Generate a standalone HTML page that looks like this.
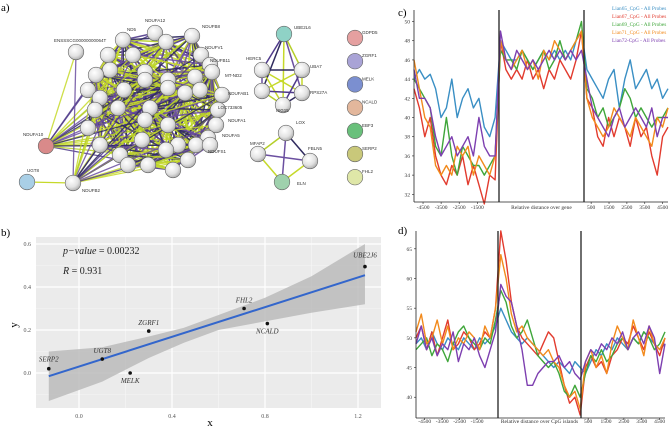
<!DOCTYPE html>
<html><head><meta charset="utf-8"><style>
html,body{margin:0;padding:0;background:#fff;width:670px;height:429px;overflow:hidden}
svg{display:block}
text{font-family:"Liberation Serif",serif}
.sans{font-family:"Liberation Sans",sans-serif}
</style></head><body>
<svg id="fig" width="670" height="429" viewBox="0 0 670 429">
<defs>
<radialGradient id="sph" cx="0.4" cy="0.35" r="0.7"><stop offset="0" stop-color="#fff"/><stop offset="0.6" stop-color="#e2e2e2"/><stop offset="1" stop-color="#a8a8a8"/></radialGradient>
</defs>
<text x="1" y="11" font-size="11">a)</text>
<text x="1" y="236" font-size="11">b)</text>
<text x="398" y="16" font-size="11">c)</text>
<text x="398" y="234" font-size="11">d)</text>
<g id="net"></g>
<g id="pb"></g>
<g id="pc"></g>
<g id="pd"></g>
</svg>
<script>
const NS="http://www.w3.org/2000/svg";
function mk(p,t,a){const e=document.createElementNS(NS,t);for(const k in a)e.setAttribute(k,a[k]);p.appendChild(e);return e;}

// ---------- panel b data ----------
const genes=["SERP2","UGT8","MELK","ZGRF1","FHL2","NCALD","UBE2J6"];
const gx=[-0.13,0.10,0.22,0.30,0.71,0.81,1.23];
const gy=[0.02,0.065,0.0,0.195,0.30,0.23,0.495];
const xTicks=[0.0,0.4,0.8,1.2];
const yTicks=[0.0,0.2,0.4,0.6];
const fitX=[-0.13,1.23];
const fitY=[-0.015,0.455];
const bandX=[-0.13,0.1,0.3,0.45,0.6,0.8,1.0,1.23];
const bandLo=[-0.13,-0.04,0.07,0.14,0.2,0.24,0.28,0.32];
const bandHi=[0.10,0.12,0.17,0.21,0.27,0.35,0.45,0.6];

// ---------- panel c data ----------
const seriesNames=["Lian65_CpG - All Probes","Lian67_CpG - All Probes","Lian69_CpG - All Probes","Lian71_CpG - All Probes","Lian72-CpG - All Probes"];
const seriesColors=["#3a8fc4","#e23b2e","#3fa63a","#f28a1c","#7d3fb0"];
const cTicks=[32,34,36,38,40,42,44,46,48,50];
const cXLeft=["-4500","-3500","-2500","-1500"];
const cXRight=["500","1500","2500","3500","4500"];
const c65=[44,45,44,44.5,43,40,41,44,40,42,43,41,42,39,38,40, 48,47,46,46,47,46,45,46,47,46,47,46,47,46,48,49, 45,44,43,42,44,45,41,44,46,43,44,45,43,44,42,43];
const c67=[43,41,38,40,36,34,33,35,34,36,33,35,33,31,34,33.5, 48,45,44,45,44,46,44,45,43,45,44,46,45,44,46,49, 42,41,38,37,40,38,40,39,37,40,38,39,36,34,38,39];
const c69=[44,43,42,41,37,36,40,36,34,37,36,35,35,34,35,36, 47,46,46,45,47,46,45,46,47,45,46,48,46,47,48,50, 43,42,40,41,39,40,41,43,42,40,41,40,39,40,40,41];
const c71=[46,43,40,39,35,34,35,34,37,36,37,34,36,35,34,36, 48,46,45,46,47,45,46,44,47,46,48,47,46,47,48,49, 42,40,39,38,39,41,40,39,38,40,39,38,37,40,39,41];
const c72=[45,42,42,41,38,36,37,38,36,37,38,36,40,37,36,36, 49,46,45,47,46,45,46,45,46,47,46,47,46,47,46,47, 44,41,40,39,38,40,41,39,40,41,40,39,41,38,40,40];

// ---------- panel d data ----------
const dTicks=[40,45,50,55,60,65];
const d65=[49,50,48,51,49,48,50,49,48,50,49,48,50,49,50,52, 55,53,51,50,49,50,49,48,47,46,45,46,45,44,46,45, 44,46,48,47,49,48,50,49,48,50,49,51,50,49,48,49];
const d67=[50,52,48,51,47,50,53,48,49,51,50,48,49,51,50,55, 68,63,56,52,50,49,48,47,49,51,50,46,42,39,40,37, 45,47,45,46,44,47,48,50,49,52,50,48,51,49,47,50];
const d69=[48,49,50,47,49,48,46,49,51,52,50,49,48,50,49,53, 58,56,52,50,51,53,50,47,46,45,46,44,41,40,42,40, 44,47,46,48,46,47,49,50,48,50,49,51,50,48,49,51];
const d71=[51,54,49,50,53,49,52,48,50,49,51,50,48,52,50,55, 64,60,54,51,52,50,49,48,47,48,46,45,42,40,41,38, 46,48,45,47,44,49,52,50,48,53,50,47,52,49,48,50];
const d72=[49,52,48,50,47,49,48,51,46,49,48,50,47,45,48,51, 59,57,56,52,48,42,42,44,45,46,46,47,45,46,44,43, 46,48,47,49,48,50,49,51,48,50,51,49,52,50,44,49];

// ===== panel b =====
(function(){
const g=document.getElementById('pb');
const L=36,R=381,T=237,B=408;
const sx=v=>79+v*232.5, sy=v=>373-v*215;
const bg=mk(g,'rect',{x:L,y:T,width:R-L,height:B-T,fill:'#ebebeb'});


[-0.2,0.2,0.6,1.0].forEach(v=>{const x=sx(v);if(x>L)mk(g,'line',{x1:x,x2:x,y1:T,y2:B,stroke:'#f6f6f6','stroke-width':0.6});});
[-0.1,0.1,0.3,0.5].forEach(v=>mk(g,'line',{x1:L,x2:R,y1:sy(v),y2:sy(v),stroke:'#f6f6f6','stroke-width':0.6}));
xTicks.forEach(v=>{mk(g,'line',{x1:sx(v),x2:sx(v),y1:T,y2:B,stroke:'#fff','stroke-width':1.2});
 const t=mk(g,'text',{x:sx(v),y:B+10,'font-size':6,'text-anchor':'middle',fill:'#555'});t.textContent=v.toFixed(1);
 });
yTicks.forEach(v=>{mk(g,'line',{x1:L,x2:R,y1:sy(v),y2:sy(v),stroke:'#fff','stroke-width':1.2});
 const t=mk(g,'text',{x:L-5,y:sy(v)+2,'font-size':6,'text-anchor':'end',fill:'#555'});t.textContent=v.toFixed(1);
 });
let d='';bandX.forEach((v,i)=>d+=(i?'L':'M')+sx(v)+','+sy(bandHi[i]));
for(let i=bandX.length-1;i>=0;i--)d+='L'+sx(bandX[i])+','+sy(bandLo[i]);
const band=mk(g,'path',{d:d+'Z',fill:'#b8b8b8','fill-opacity':0.8});

const fl=mk(g,'line',{x1:sx(fitX[0]),y1:sy(fitY[0]),x2:sx(fitX[1]),y2:sy(fitY[1]),stroke:'#3366cc','stroke-width':2});

const off=[[0,-7],[0,-6],[0,10],[0,-6],[0,-6],[0,10],[0,-9]];
genes.forEach((n,i)=>{const c=mk(g,'circle',{cx:sx(gx[i]),cy:sy(gy[i]),r:1.8,fill:'#111'});
 
 const t=mk(g,'text',{x:sx(gx[i])+off[i][0],y:sy(gy[i])+off[i][1],'font-size':7,'font-style':'italic','text-anchor':'middle',fill:'#333'});t.textContent=n;
 });
const p=mk(g,'text',{x:63,y:254,'font-size':10,fill:'#222'});p.innerHTML='<tspan font-style="italic">p−value</tspan> = 0.00232';

const r=mk(g,'text',{x:63,y:274,'font-size':10,fill:'#222'});r.innerHTML='<tspan font-style="italic">R</tspan> = 0.931';

const xl=mk(g,'text',{x:210,y:426,'font-size':11,'text-anchor':'middle'});xl.textContent='x';

const yl=mk(g,'text',{x:17,y:325,'font-size':11,'text-anchor':'middle',transform:'rotate(-90 17 325)'});yl.textContent='y';

})();

// ===== line panels =====
function linePanel(id,L,R,T,B,v1,v2,vmin,vmax,ticks,series,lblY,title,legend){
const g=document.getElementById(id);
const sy=v=>B-(v-vmin)/(vmax-vmin)*(B-T);
const n=series[0].length;
const sx=i=>L+i*(R-L)/(n-1);
series.forEach((s,k)=>{let d='';s.forEach((v,i)=>d+=(i?'L':'M')+sx(i).toFixed(1)+','+sy(v).toFixed(1));
 const pl=mk(g,'path',{d:d,fill:'none',stroke:seriesColors[k],'stroke-width':1.4,'stroke-linejoin':'round'});
 });
mk(g,'line',{x1:L,x2:L,y1:T,y2:B,stroke:'#222','stroke-width':0.8});
mk(g,'line',{x1:L,x2:R,y1:B,y2:B,stroke:'#222','stroke-width':0.8});
[v1,v2].forEach(x=>{const vl=mk(g,'line',{x1:x,x2:x,y1:T,y2:B,stroke:'#222','stroke-width':1.3});
 });
ticks.forEach(v=>{mk(g,'line',{x1:L-2,x2:L,y1:sy(v),y2:sy(v),stroke:'#222','stroke-width':0.6});
 const t=mk(g,'text',{x:L-4,y:sy(v)+2,'font-size':5.5,'text-anchor':'end',fill:'#333'});t.textContent=v;
 });
const lw=(v1-L)/4.7, rw=(R-v2)/4.7;
cXLeft.forEach((s,i)=>{const x=L+lw*(0.5+i);mk(g,'line',{x1:x,x2:x,y1:B,y2:B+2,stroke:'#222','stroke-width':0.6});
 const t=mk(g,'text',{x:x,y:lblY,'font-size':5.5,'text-anchor':'middle',fill:'#333'});t.textContent=s;
 });
cXRight.forEach((s,i)=>{const x=v2+rw*(0.4+i);mk(g,'line',{x1:x,x2:x,y1:B,y2:B+2,stroke:'#222','stroke-width':0.6});
 const t=mk(g,'text',{x:x,y:lblY,'font-size':5.5,'text-anchor':'middle',fill:'#333'});t.textContent=s;
 });
const tt=mk(g,'text',{x:(v1+v2)/2,y:lblY,'font-size':5.5,'text-anchor':'middle',fill:'#333'});tt.textContent=title;

if(legend){seriesNames.forEach((s,k)=>{const t=mk(g,'text',{x:612,y:10+k*8,'font-size':5.3,fill:seriesColors[k]});t.textContent=s;
 });}
}
linePanel('pc',414,668,10,202,499,584,31.2,51.2,cTicks,[c65,c67,c69,c71,c72],209,'Relative distance over gene',true);
linePanel('pd',416,665,231,418,498,581,36.5,68,dTicks,[d65,d67,d69,d71,d72],423,'Relative distance over CpG islands',false);

// ===== network panel (illustration) =====
(function(){
const g=document.getElementById('net');
const cl=[[76,52],[108,55],[123,40],[155,33],[166,42],[192,36],[201,55],[210,65],[212,72],[195,77],[168,80],[145,72],[133,55],[110,70],[96,75],[88,90],[100,98],[124,90],[145,80],[168,88],[185,93],[200,90],[222,95],[218,110],[216,125],[208,138],[196,145],[178,145],[168,125],[150,108],[145,120],[118,108],[95,110],[88,128],[100,145],[120,155],[142,140],[128,165],[148,165],[173,170],[188,160],[166,150],[210,145]];
const cols=['#c6d92a','#4f3a8a','#b5cf2a','#2f2a5e','#6b4fa0','#c6d92a'];
let c=0;
for(let i=0;i<cl.length;i++)for(let j=i+1;j<cl.length;j++){const dx=cl[i][0]-cl[j][0],dy=cl[i][1]-cl[j][1];
 if(dx*dx+dy*dy<95*95 && (i*7+j*3)%3!==0){mk(g,'line',{x1:cl[i][0],y1:cl[i][1],x2:cl[j][0],y2:cl[j][1],stroke:cols[c++%6],'stroke-width':1.5,'stroke-opacity':0.9});}}
const hubs=[[46,146],[73,183]];
hubs.forEach(h=>cl.forEach((p,i)=>{if(i%2===0)mk(g,'line',{x1:h[0],y1:h[1],x2:p[0],y2:p[1],stroke:cols[c++%6],'stroke-width':1.3,'stroke-opacity':0.85});}));
mk(g,'line',{x1:27,y1:182,x2:73,y2:183,stroke:'#c6d92a','stroke-width':1.2});
const sc=[[284,34],[262,70],[302,70],[262,91],[302,93],[283,105]];
for(let i=0;i<6;i++)for(let j=i+1;j<6;j++)mk(g,'line',{x1:sc[i][0],y1:sc[i][1],x2:sc[j][0],y2:sc[j][1],stroke:cols[(i+j)%6],'stroke-width':1.5});
const s2=[[286,133],[258,154],[310,161],[282,182]];
for(let i=0;i<4;i++)for(let j=i+1;j<4;j++)mk(g,'line',{x1:s2[i][0],y1:s2[i][1],x2:s2[j][0],y2:s2[j][1],stroke:cols[(i+j+1)%6],'stroke-width':1.5});
function node(x,y,f,name){const n=mk(g,'circle',{cx:x,cy:y,r:7.8,fill:f,stroke:'#666','stroke-width':0.6});
 }
cl.forEach(p=>node(p[0],p[1],'url(#sph)','protein-node'));
node(46,146,'#d98a8a','node-ndufa10');node(27,182,'#a9cfe6','node-ugt8');node(73,183,'url(#sph)','node-ndufb2');
sc.forEach((p,i)=>node(p[0],p[1],i===0?'#8fd2c6':'url(#sph)','protein-node'));
s2.forEach((p,i)=>node(p[0],p[1],i===3?'#9fd1ad':'url(#sph)','protein-node'));
const lg=[['GDPD5','#e5a0a0'],['ZGRF1','#a9a3d6'],['MELK','#7b8fd0'],['NCALD','#e3b79c'],['EBF3','#69c07b'],['SERP2','#c9c87a'],['FHL2','#dfe7a8']];
lg.forEach((l,i)=>{const y=38+i*23.2;node(355,y,l[1],'legend-node-'+l[0].toLowerCase());
 const t=mk(g,'text',{x:362,y:y-4,'font-size':4.5,class:'sans',fill:'#333'});t.textContent=l[0];
 });
const labs=[['NDUFA12',145,22],['NDUFB8',202,28],['ND5',127,31],['ENSSSCG00000000064T',54,42],['NDUFV1',205,49],['NDUFB11',210,62],['MT-ND2',225,77],['NDUFAB1',228,95],['LOC733605',218,109],['NDUFA1',228,122],['NDUFA5',222,137],['NDUFS1',208,153],['NDUFA10',23,136],['UGT8',27,172],['NDUFB2',82,192],['UBE2L6',294,29],['HERC5',246,60],['UBA7',310,68],['RPS27A',310,94],['ISG15',276,112],['LOX',296,124],['MFAP2',250,145],['FBLN5',308,150],['ELN',297,185]];
labs.forEach(l=>{const t=mk(g,'text',{x:l[1],y:l[2],'font-size':4.5,class:'sans',fill:'#333'});t.textContent=l[0];
 });
})();
</script>
</body></html>
